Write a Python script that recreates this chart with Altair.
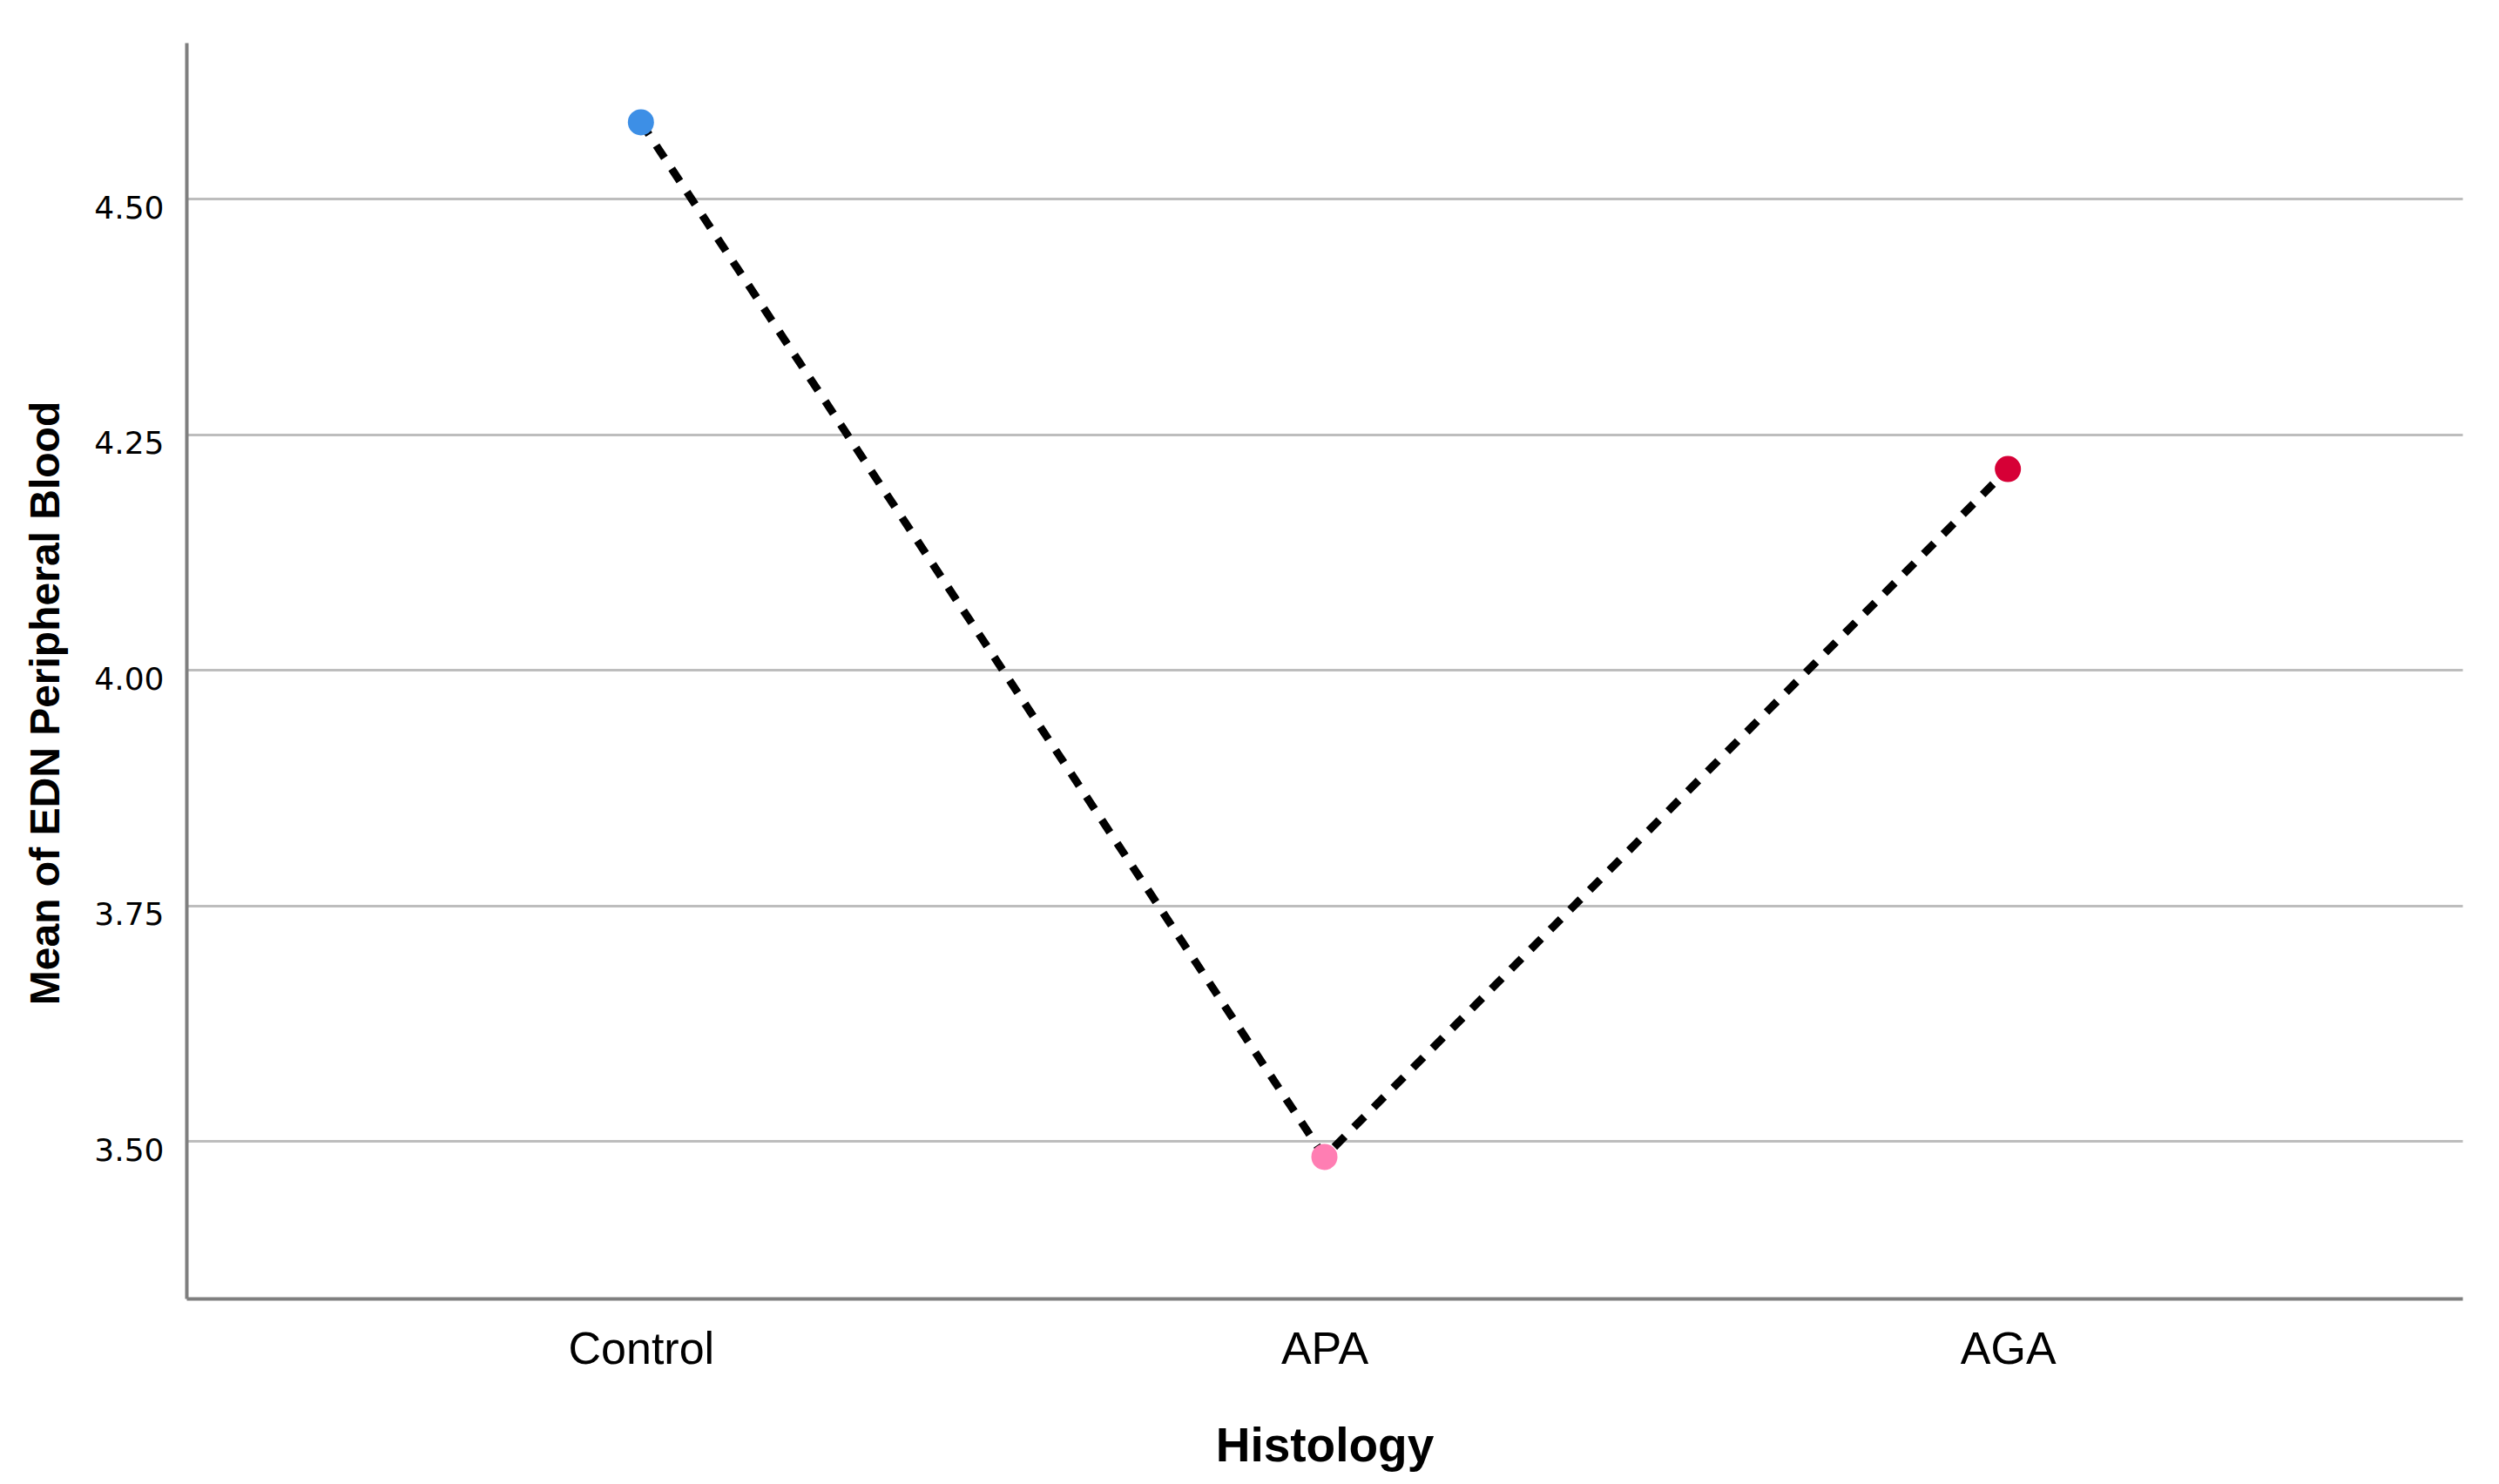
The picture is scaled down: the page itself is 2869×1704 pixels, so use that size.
import altair as alt
import pandas as pd

categories = ["Control", "APA", "AGA"]
means = [4.581, 3.483, 4.213]
colors = ["#3D8FE6", "#FF7EB3", "#D60036"]
y_ticks = [3.50, 3.75, 4.00, 4.25, 4.50]
y_domain = [3.3328, 4.6655]

df = pd.DataFrame({"Histology": categories, "Mean": means, "Color": colors})

x_enc = alt.X(
    "Histology:N",
    sort=categories,
    scale=alt.Scale(type="point", padding=0.665),
    axis=alt.Axis(
        title="Histology",
        titleFont="Liberation Sans",
        titleFontSize=55,
        titleFontWeight="bold",
        titleColor="#000000",
        titleBaseline="alphabetic",
        titleY=186,
        labelFont="Liberation Sans",
        labelFontSize=52,
        labelColor="#000000",
        labelBaseline="alphabetic",
        labelPadding=74,
        labelAngle=0,
        ticks=False,
        tickSize=0,
        domainColor="#7F7F7F",
        domainWidth=4,
        grid=False,
    ),
)

y_enc = alt.Y(
    "Mean:Q",
    scale=alt.Scale(domain=y_domain, nice=False, zero=False),
    axis=alt.Axis(
        title="Mean of EDN Peripheral Blood",
        titleFont="Liberation Sans",
        titleFontSize=48,
        titleFontWeight="bold",
        titleColor="#000000",
        titleBaseline="alphabetic",
        titleX=-147,
        titleY=758,
        titleAlign="center",
        values=y_ticks,
        format=".2f",
        labelFont="DejaVu Sans",
        labelFontSize=36,
        labelColor="#000000",
        labelBaseline="alphabetic",
        labelOffset=22,
        labelPadding=26,
        ticks=False,
        tickSize=0,
        domainColor="#7F7F7F",
        domainWidth=4,
        grid=True,
        gridColor="#BDBDBD",
        gridWidth=3,
    ),
)

line = alt.Chart(df).mark_line(
    color="#000000", strokeWidth=9, strokeDash=[17, 15]
).encode(x=x_enc, y=y_enc)

points = alt.Chart(df).mark_circle(size=900, opacity=1).encode(
    x=alt.X("Histology:N", sort=categories),
    y=alt.Y("Mean:Q"),
    color=alt.Color("Color:N", scale=None, legend=None),
)

chart = (
    alt.layer(line, points)
    .properties(
        width=2613,
        height=1442,
        autosize=alt.AutoSizeParams(type="none"),
        padding={"left": 206, "top": 41, "right": 34, "bottom": 205},
        view=alt.ViewBackground(stroke=None, strokeWidth=0, strokeOpacity=0),
    )
    .configure_view(stroke=None, strokeWidth=0, strokeOpacity=0)
    .configure(background="#FFFFFF")
)

chart.save("out.html", embed_options={"renderer": "svg", "actions": False})
